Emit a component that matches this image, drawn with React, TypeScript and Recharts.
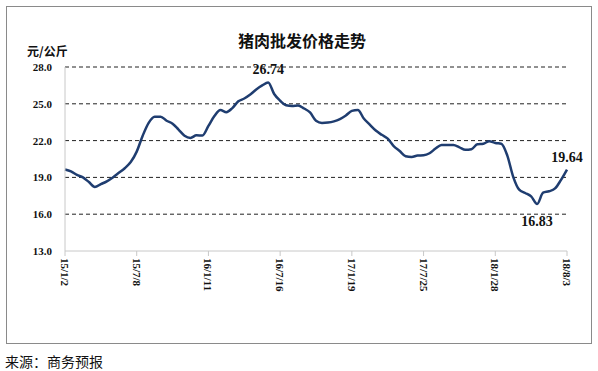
import React from "react";
import { LineChart, Line, XAxis, YAxis, CartesianGrid } from "recharts";

// tick labels on the x axis, one every 12 points
const tickLabels = ["15/1/2", "15/7/8", "16/1/11", "16/7/16", "17/1/19", "17/7/25", "18/1/28", "18/8/3"];

// wholesale pork price, yuan/kg
const prices = [
  19.65, 19.5, 19.2, 19.0, 18.62, 18.22, 18.45, 18.68, 19.0, 19.37, 19.75, 20.25,
  21.1, 22.4, 23.45, 23.95, 23.95, 23.62, 23.38, 22.9, 22.4, 22.22, 22.43, 22.42,
  23.2, 24.0, 24.5, 24.32, 24.65, 25.2, 25.43, 25.75, 26.17, 26.5, 26.74, 25.8,
  25.25, 24.88, 24.82, 24.86, 24.62, 24.3, 23.62, 23.44, 23.47, 23.57, 23.76, 24.05,
  24.42, 24.5, 23.8, 23.3, 22.82, 22.47, 22.16, 21.55, 21.15, 20.73, 20.67, 20.78,
  20.8, 20.97, 21.35, 21.65, 21.65, 21.64, 21.45, 21.25, 21.3, 21.7, 21.75, 21.95,
  21.8, 21.75, 20.8, 19.05, 18.0, 17.73, 17.45, 16.83, 17.75, 17.87, 18.1, 18.8,
  19.64,
];

const yTicks = [13, 16, 19, 22, 25, 28];
const gridValues = [16, 19, 22, 25, 28];

// which points get a value label, and where it sits
const callouts: Record<number, "above" | "below"> = { 34: "above", 79: "below", 84: "above" };

const data = prices.map((price, i) => ({ i, price }));
const xTicks = tickLabels.map((_, k) => k * 12);

const serif = "'Liberation Serif', 'Times New Roman', serif";
const cjk = "'Noto Sans CJK SC', sans-serif";

function XTick({ x, y, payload }: any) {
  return (
    <text
      x={x}
      y={y}
      transform={`rotate(90, ${x}, ${y})`}
      textAnchor="start"
      dominantBaseline="central"
      fontFamily={serif}
      fontWeight="bold"
      fontSize={11}
      fill="#111"
    >
      {tickLabels[payload.value / 12]}
    </text>
  );
}

function Callout({ x, y, index, value }: any) {
  const pos = callouts[index];
  if (!pos) return null;
  return (
    <text
      x={x}
      y={pos === "above" ? y - 8 : y + 22}
      textAnchor="middle"
      fontFamily={serif}
      fontWeight="bold"
      fontSize={14}
      fill="#111"
    >
      {value.toFixed(2)}
    </text>
  );
}

export default function App() {
  return (
    <div style={{ position: "relative", width: 598, height: 371, background: "#fff" }}>
      <style>{`body{margin:0}`}</style>
      <div
        style={{
          position: "absolute",
          left: 6,
          top: 6,
          width: 584,
          height: 336,
          border: "1px solid #8a8a8a",
        }}
      />
      <div
        style={{
          position: "absolute",
          left: 0,
          width: 598,
          top: 30,
          textAlign: "center",
          paddingLeft: 6,
          boxSizing: "border-box",
          fontFamily: cjk,
          fontWeight: "bold",
          fontSize: 16,
          lineHeight: "20px",
          color: "#111",
        }}
      >
        猪肉批发价格走势
      </div>
      <div
        style={{
          position: "absolute",
          left: 27,
          top: 44,
          fontFamily: cjk,
          fontWeight: "bold",
          fontSize: 12,
          lineHeight: "14px",
          color: "#111",
        }}
      >
        元/公斤
      </div>
      <div
        style={{
          position: "absolute",
          left: 5,
          top: 353,
          fontFamily: cjk,
          fontSize: 14,
          lineHeight: "16px",
          color: "#111",
        }}
      >
        来源：商务预报
      </div>
      <div style={{ position: "absolute", left: 0, top: 0 }}>
        <LineChart width={598} height={371} data={data} margin={{ top: 67, right: 31, bottom: 70, left: 0 }}>
          <CartesianGrid
            horizontal
            vertical={false}
            horizontalValues={gridValues}
            stroke="#222"
            strokeDasharray="4 3"
          />
          <XAxis
            dataKey="i"
            type="number"
            domain={[0, prices.length - 1]}
            ticks={xTicks}
            interval={0}
            height={50}
            axisLine={{ stroke: "#c8c8c8" }}
            tickLine={{ stroke: "#c8c8c8" }}
            tickSize={5}
            tick={<XTick />}
          />
          <YAxis
            type="number"
            domain={[13, 28]}
            ticks={yTicks}
            interval={0}
            width={65}
            axisLine={{ stroke: "#c8c8c8" }}
            tickLine={false}
            tickMargin={7}
            tickFormatter={(v: number) => v.toFixed(1)}
            tick={{ fontFamily: serif, fontWeight: "bold", fontSize: 11, fill: "#111" }}
          />
          <Line
            type="monotone"
            dataKey="price"
            stroke="#1f3d70"
            strokeWidth={2.5}
            dot={false}
            isAnimationActive={false}
            label={<Callout />}
          />
        </LineChart>
      </div>
    </div>
  );
}
